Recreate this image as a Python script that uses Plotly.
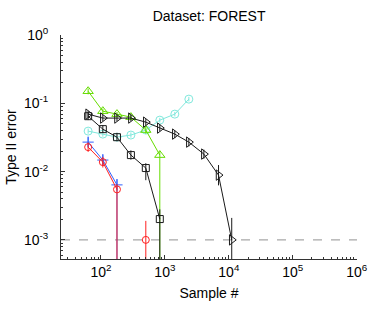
import plotly.graph_objects as go

# ---- data ----
sample_n = [63, 107, 178, 294, 503, 833, 1430, 2370, 4070, 6900, 11100]

green_y  = [0.151, 0.077, 0.0697, 0.063, 0.0407, 0.0175]
green_lo = [0.136, 0.070, 0.064, 0.058, 0.036, 0.0]
green_hi = [0.166, 0.084, 0.075, 0.068, 0.046, 0.020]

cyan_y  = [0.0393, 0.0355, 0.0321, 0.0344, 0.0407, 0.0569, 0.0697, 0.1156]
cyan_lo = [0.0360, 0.0325, 0.0295, 0.0315, 0.0375, 0.0525, 0.0645, 0.107]
cyan_hi = [0.0428, 0.0388, 0.0350, 0.0376, 0.0442, 0.0615, 0.0752, 0.125]

tri_y  = [0.0697, 0.061, 0.061, 0.061, 0.0532, 0.0435, 0.0355, 0.0271, 0.0181, 0.0089, 0.001]
tri_lo = [0.062, 0.055, 0.055, 0.055, 0.048, 0.039, 0.031, 0.0235, 0.0155, 0.0063, 0.0]
tri_hi = [0.078, 0.068, 0.068, 0.068, 0.059, 0.049, 0.040, 0.031, 0.0210, 0.0125, 0.0021]

sq_y  = [0.065, 0.042, 0.032, 0.0175, 0.0113, 0.00202]
sq_lo = [0.057, 0.037, 0.028, 0.0150, 0.0075, 0.0]
sq_hi = [0.074, 0.048, 0.037, 0.0205, 0.0133, 0.0028]

blue_y  = [0.0271, 0.0148, 0.0064]
blue_lo = [0.0230, 0.0122, 0.0]
blue_hi = [0.0320, 0.0180, 0.0078]

red_y  = [0.0229, 0.0138, 0.0055, 0.0, 0.001]
red_lo = [0.0195, 0.0115, 0.0, 0.0, 0.0]
red_hi = [0.0268, 0.0165, 0.0066, 0.0, 0.0019]

ref_level = 1e-3
x_range_log = [1.375, 6.005]
y_range_log = [-3.28, 0.003]
x_ticks = [1e2, 1e3, 1e4, 1e5, 1e6]
x_tick_text = ["10<sup>2</sup>", "10<sup>3</sup>", "10<sup>4</sup>", "10<sup>5</sup>", "10<sup>6</sup>"]
y_ticks = [1e-3, 1e-2, 1e-1, 1e0]
y_tick_text = ["10<sup>-3</sup>", "10<sup>-2</sup>", "10<sup>-1</sup>", "10<sup>0</sup>"]

FLOOR = 1e-9  # zero drawn below the log axis

GREEN = "#66dd00"
CYAN = "#80e8dc"
BLACK = "#1a1a1a"
BLUE = "#3060ff"
RED = "#ff2020"

fig = go.Figure()


def add_series(y, lo, hi, color, symbol, size):
    n = len(y)
    xs = sample_n[:n]
    ex, ey = [], []
    for xi, l, h, yi in zip(xs, lo, hi, y):
        if yi <= 0 and h <= 0:
            continue
        ex += [xi, xi, None]
        ey += [l if l > 0 else FLOOR, h, None]
    fig.add_trace(go.Scatter(x=ex, y=ey, mode="lines",
                             line=dict(color=color, width=1),
                             hoverinfo="skip", showlegend=False))
    yy = [v if v > 0 else None for v in y]
    fig.add_trace(go.Scatter(x=xs, y=yy, mode="lines+markers",
                             line=dict(color=color, width=1),
                             marker=dict(symbol=symbol, size=size, color=color,
                                         line=dict(color=color, width=1)),
                             connectgaps=False, showlegend=False))


add_series(cyan_y, cyan_lo, cyan_hi, CYAN, "circle-open", 8)
add_series(green_y, green_lo, green_hi, GREEN, "triangle-up-open", 9)
add_series(tri_y, tri_lo, tri_hi, BLACK, "triangle-right-open", 9)
add_series(sq_y, sq_lo, sq_hi, BLACK, "square-open", 7)
add_series(blue_y, blue_lo, blue_hi, BLUE, "cross-thin-open", 8)
add_series(red_y, red_lo, red_hi, RED, "circle-open", 7)

fig.add_shape(type="line", xref="paper", x0=0, x1=1, yref="y",
              y0=ref_level, y1=ref_level,
              line=dict(color="#a8a8a8", width=1.3, dash="dash"), layer="below")

font = "Liberation Sans, Arial, sans-serif"
fig.update_layout(
    width=374, height=310,
    margin=dict(l=61, r=17, t=35, b=51, autoexpand=False),
    paper_bgcolor="white", plot_bgcolor="white",
    font=dict(family=font, size=14, color="black"),
    title=dict(text="Dataset: FOREST", x=0.559, xanchor="center",
               y=0.948, yanchor="middle", font=dict(size=14)),
    showlegend=False,
)
fig.update_xaxes(type="log", range=x_range_log, automargin=False,
                 tickmode="array", tickvals=x_ticks, ticktext=x_tick_text,
                 ticks="inside", ticklen=4, tickcolor="#333",
                 ticklabeloverflow="allow",
                 showline=True, linecolor="#333", linewidth=1,
                 showgrid=False, zeroline=False, mirror=False,
                 minor=dict(ticks="inside", ticklen=2, dtick="D1",
                            tickcolor="#333", showgrid=False),
                 title=dict(text="Sample #", standoff=9, font=dict(size=14)),
                 tickfont=dict(size=14))
fig.update_yaxes(type="log", range=y_range_log, automargin=False,
                 tickmode="array", tickvals=y_ticks, ticktext=y_tick_text,
                 ticks="inside", ticklen=4, tickcolor="#333",
                 ticklabeloverflow="allow",
                 showline=True, linecolor="#333", linewidth=1,
                 showgrid=False, zeroline=False, mirror=False,
                 minor=dict(ticks="inside", ticklen=2, dtick="D1",
                            tickcolor="#333", showgrid=False),
                 ticklabelstandoff=9,
                 title=dict(text="Type II error", standoff=4, font=dict(size=14)),
                 tickfont=dict(size=14))

fig.write_html("out.html", config={"displayModeBar": False},
               post_script="document.body.style.margin='0';document.body.style.padding='0';")
